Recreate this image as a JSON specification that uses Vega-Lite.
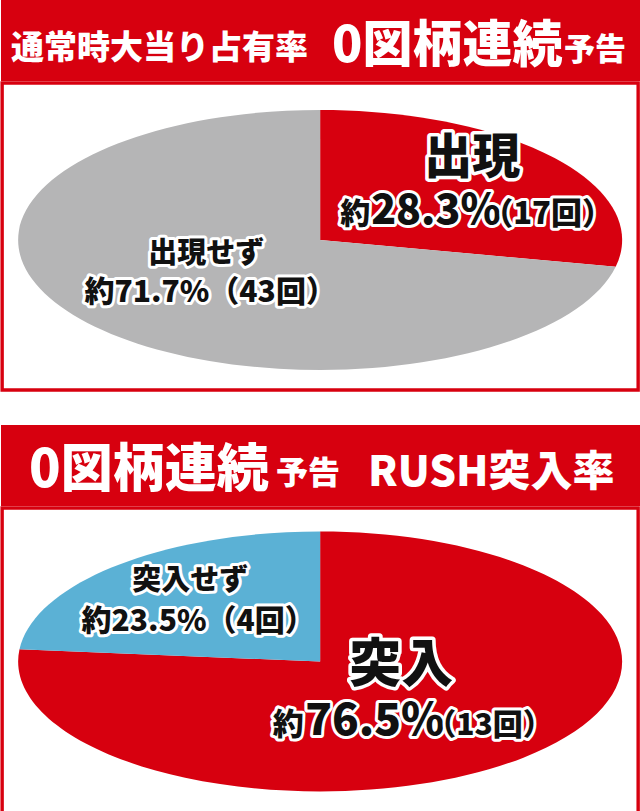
{
  "$schema": "https://vega.github.io/schema/vega-lite/v6.json",
  "padding": 0,
  "background": "white",
  "config": {
    "view": {"stroke": null},
    "font": "Noto Sans CJK JP Black, Noto Sans CJK JP",
    "text": {"font": "Noto Sans CJK JP Black, Noto Sans CJK JP", "fontWeight": 900, "baseline": "alphabetic"}
  },
  "datasets": {
    "occupancy": [
      {"結果": "出現", "割合": 0.283, "回数": 17},
      {"結果": "出現せず", "割合": 0.717, "回数": 43}
    ],
    "rush": [
      {"結果": "突入", "割合": 0.765, "回数": 13},
      {"結果": "突入せず", "割合": 0.235, "回数": 4}
    ]
  },
  "spacing": 33,
  "resolve": {"scale": {"color": "independent", "shape": "independent"}},
  "vconcat": [
    {
      "spacing": 0,
      "center": true,
      "resolve": {"scale": {"color": "independent", "shape": "independent"}},
      "vconcat": [
        {
          "width": 640,
          "height": 81,
          "view": {"fill": "#d7000f", "stroke": null},
          "data": {"values": [{}]},
          "layer": [
            {"mark": {"type": "text", "text": "通常時大当り占有率", "align": "left", "dx": -310, "dy": 18.5, "fontSize": 33, "fill": "white"}, "encoding": {}},
            {"mark": {"type": "text", "text": "0図柄連続", "align": "left", "dx": 11, "dy": 21.5, "fontSize": 50, "fill": "white"}, "encoding": {}},
            {"mark": {"type": "text", "text": "予告", "align": "left", "dx": 243, "dy": 19, "fontSize": 31, "fill": "white"}, "encoding": {}}
          ]
        },
        {
          "width": 636,
          "height": 307,
          "view": {"fill": "white", "stroke": "#d7000f", "strokeWidth": 3.4},
          "data": {"name": "occupancy"},
          "transform": [
            {"calculate": "'（' + datum.回数 + '回）'", "as": "回数表記"},
            {"calculate": "'約' + format(datum.割合, '.1%') + '（' + datum.回数 + '回）'", "as": "ラベル"}
          ],
          "layer": [
            {
              "mark": {"type": "point", "filled": true, "opacity": 1, "strokeWidth": 0, "size": 364816, "yOffset": 3.5},
              "encoding": {
                "shape": {"field": "結果", "type": "nominal", "legend": null, "scale": {"domain": ["出現", "出現せず"], "range": ["M0,0L0,-0.4305A1,0.4305,0,0,1,0.9786,0.0886Z", "M0,0L0.9786,0.0886A1,0.4305,0,1,1,0,-0.4305Z"]}},
                "color": {"field": "結果", "type": "nominal", "legend": null, "scale": {"domain": ["出現", "出現せず"], "range": ["#d7000f", "#b5b5b6"]}}
              }
            },
            {"transform": [{"filter": "datum.結果 === '出現'"}], "mark": {"type": "text", "align": "center", "dx": 152, "dy": -64, "fontSize": 48, "fill": "white", "stroke": "white", "strokeWidth": 7, "strokeJoin": "round"}, "encoding": {"text": {"field": "結果"}}},
            {"transform": [{"filter": "datum.結果 === '出現'"}], "mark": {"type": "text", "align": "center", "dx": 152, "dy": -64, "fontSize": 48, "fill": "#111111"}, "encoding": {"text": {"field": "結果"}}},
            {"transform": [{"filter": "datum.結果 === '出現'"}], "mark": {"type": "text", "text": "約", "align": "center", "dx": 35, "dy": -12.5, "fontSize": 30, "fill": "white", "stroke": "white", "strokeWidth": 6, "strokeJoin": "round"}, "encoding": {}},
            {"transform": [{"filter": "datum.結果 === '出現'"}], "mark": {"type": "text", "text": "約", "align": "center", "dx": 35, "dy": -12.5, "fontSize": 30, "fill": "#111111"}, "encoding": {}},
            {"transform": [{"filter": "datum.結果 === '出現'"}], "mark": {"type": "text", "align": "left", "dx": 51, "dy": -12.5, "fontSize": 41, "fill": "white", "stroke": "white", "strokeWidth": 6, "strokeJoin": "round"}, "encoding": {"text": {"field": "割合", "type": "quantitative", "format": ".1%"}}},
            {"transform": [{"filter": "datum.結果 === '出現'"}], "mark": {"type": "text", "align": "left", "dx": 51, "dy": -12.5, "fontSize": 41, "fill": "#111111"}, "encoding": {"text": {"field": "割合", "type": "quantitative", "format": ".1%"}}},
            {"transform": [{"filter": "datum.結果 === '出現'"}], "mark": {"type": "text", "align": "left", "dx": 162, "dy": -12.5, "fontSize": 31, "fill": "white", "stroke": "white", "strokeWidth": 6, "strokeJoin": "round"}, "encoding": {"text": {"field": "回数表記"}}},
            {"transform": [{"filter": "datum.結果 === '出現'"}], "mark": {"type": "text", "align": "left", "dx": 162, "dy": -12.5, "fontSize": 31, "fill": "#111111"}, "encoding": {"text": {"field": "回数表記"}}},
            {"transform": [{"filter": "datum.結果 === '出現せず'"}], "mark": {"type": "text", "align": "center", "dx": -114, "dy": 26, "fontSize": 29, "fill": "white", "stroke": "white", "strokeWidth": 6, "strokeJoin": "round"}, "encoding": {"text": {"field": "結果"}}},
            {"transform": [{"filter": "datum.結果 === '出現せず'"}], "mark": {"type": "text", "align": "center", "dx": -114, "dy": 26, "fontSize": 29, "fill": "#111111"}, "encoding": {"text": {"field": "結果"}}},
            {"transform": [{"filter": "datum.結果 === '出現せず'"}], "mark": {"type": "text", "align": "center", "dx": -110, "dy": 65.5, "fontSize": 30, "fill": "white", "stroke": "white", "strokeWidth": 6, "strokeJoin": "round"}, "encoding": {"text": {"field": "ラベル"}}},
            {"transform": [{"filter": "datum.結果 === '出現せず'"}], "mark": {"type": "text", "align": "center", "dx": -110, "dy": 65.5, "fontSize": 30, "fill": "#111111"}, "encoding": {"text": {"field": "ラベル"}}}
          ]
        }
      ]
    },
    {
      "spacing": 0,
      "center": true,
      "resolve": {"scale": {"color": "independent", "shape": "independent"}},
      "vconcat": [
        {
          "width": 640,
          "height": 81,
          "view": {"fill": "#d7000f", "stroke": null},
          "data": {"values": [{}]},
          "layer": [
            {"mark": {"type": "text", "text": "0図柄連続", "align": "left", "dx": -292, "dy": 21.5, "fontSize": 52, "fill": "white"}, "encoding": {}},
            {"mark": {"type": "text", "text": "予告", "align": "left", "dx": -45, "dy": 18, "fontSize": 32, "fill": "white"}, "encoding": {}},
            {"mark": {"type": "text", "text": "RUSH突入率", "align": "left", "dx": 47, "dy": 20.5, "fontSize": 42, "fill": "white"}, "encoding": {}}
          ]
        },
        {
          "width": 636,
          "height": 307,
          "view": {"fill": "white", "stroke": "#d7000f", "strokeWidth": 3.4},
          "data": {"name": "rush"},
          "transform": [
            {"calculate": "'（' + datum.回数 + '回）'", "as": "回数表記"},
            {"calculate": "'約' + format(datum.割合, '.1%') + '（' + datum.回数 + '回）'", "as": "ラベル"}
          ],
          "layer": [
            {
              "mark": {"type": "point", "filled": true, "opacity": 1, "strokeWidth": 0, "size": 364816},
              "encoding": {
                "shape": {"field": "結果", "type": "nominal", "legend": null, "scale": {"domain": ["突入", "突入せず"], "range": ["M0,0L0,-0.4305A1,0.4305,0,1,1,-0.9956,-0.0405Z", "M0,0L-0.9956,-0.0405A1,0.4305,0,0,1,0,-0.4305Z"]}},
                "color": {"field": "結果", "type": "nominal", "legend": null, "scale": {"domain": ["突入", "突入せず"], "range": ["#d7000f", "#5bb1d5"]}}
              }
            },
            {"transform": [{"filter": "datum.結果 === '突入'"}], "mark": {"type": "text", "align": "center", "dx": 81, "dy": 20.5, "fontSize": 52, "fill": "white", "stroke": "white", "strokeWidth": 7, "strokeJoin": "round"}, "encoding": {"text": {"field": "結果"}}},
            {"transform": [{"filter": "datum.結果 === '突入'"}], "mark": {"type": "text", "align": "center", "dx": 81, "dy": 20.5, "fontSize": 52, "fill": "#111111"}, "encoding": {"text": {"field": "結果"}}},
            {"transform": [{"filter": "datum.結果 === '突入'"}], "mark": {"type": "text", "text": "約", "align": "center", "dx": -32, "dy": 73.5, "fontSize": 31, "fill": "white", "stroke": "white", "strokeWidth": 6, "strokeJoin": "round"}, "encoding": {}},
            {"transform": [{"filter": "datum.結果 === '突入'"}], "mark": {"type": "text", "text": "約", "align": "center", "dx": -32, "dy": 73.5, "fontSize": 31, "fill": "#111111"}, "encoding": {}},
            {"transform": [{"filter": "datum.結果 === '突入'"}], "mark": {"type": "text", "align": "left", "dx": -15, "dy": 73.5, "fontSize": 44, "fill": "white", "stroke": "white", "strokeWidth": 6, "strokeJoin": "round"}, "encoding": {"text": {"field": "割合", "type": "quantitative", "format": ".1%"}}},
            {"transform": [{"filter": "datum.結果 === '突入'"}], "mark": {"type": "text", "align": "left", "dx": -15, "dy": 73.5, "fontSize": 44, "fill": "#111111"}, "encoding": {"text": {"field": "割合", "type": "quantitative", "format": ".1%"}}},
            {"transform": [{"filter": "datum.結果 === '突入'"}], "mark": {"type": "text", "align": "left", "dx": 106, "dy": 73.5, "fontSize": 30, "fill": "white", "stroke": "white", "strokeWidth": 6, "strokeJoin": "round"}, "encoding": {"text": {"field": "回数表記"}}},
            {"transform": [{"filter": "datum.結果 === '突入'"}], "mark": {"type": "text", "align": "left", "dx": 106, "dy": 73.5, "fontSize": 30, "fill": "#111111"}, "encoding": {"text": {"field": "回数表記"}}},
            {"transform": [{"filter": "datum.結果 === '突入せず'"}], "mark": {"type": "text", "align": "center", "dx": -130, "dy": -72, "fontSize": 29, "fill": "white", "stroke": "white", "strokeWidth": 6, "strokeJoin": "round"}, "encoding": {"text": {"field": "結果"}}},
            {"transform": [{"filter": "datum.結果 === '突入せず'"}], "mark": {"type": "text", "align": "center", "dx": -130, "dy": -72, "fontSize": 29, "fill": "#111111"}, "encoding": {"text": {"field": "結果"}}},
            {"transform": [{"filter": "datum.結果 === '突入せず'"}], "mark": {"type": "text", "align": "center", "dx": -122, "dy": -30.5, "fontSize": 30, "fill": "white", "stroke": "white", "strokeWidth": 6, "strokeJoin": "round"}, "encoding": {"text": {"field": "ラベル"}}},
            {"transform": [{"filter": "datum.結果 === '突入せず'"}], "mark": {"type": "text", "align": "center", "dx": -122, "dy": -30.5, "fontSize": 30, "fill": "#111111"}, "encoding": {"text": {"field": "ラベル"}}}
          ]
        }
      ]
    }
  ]
}
